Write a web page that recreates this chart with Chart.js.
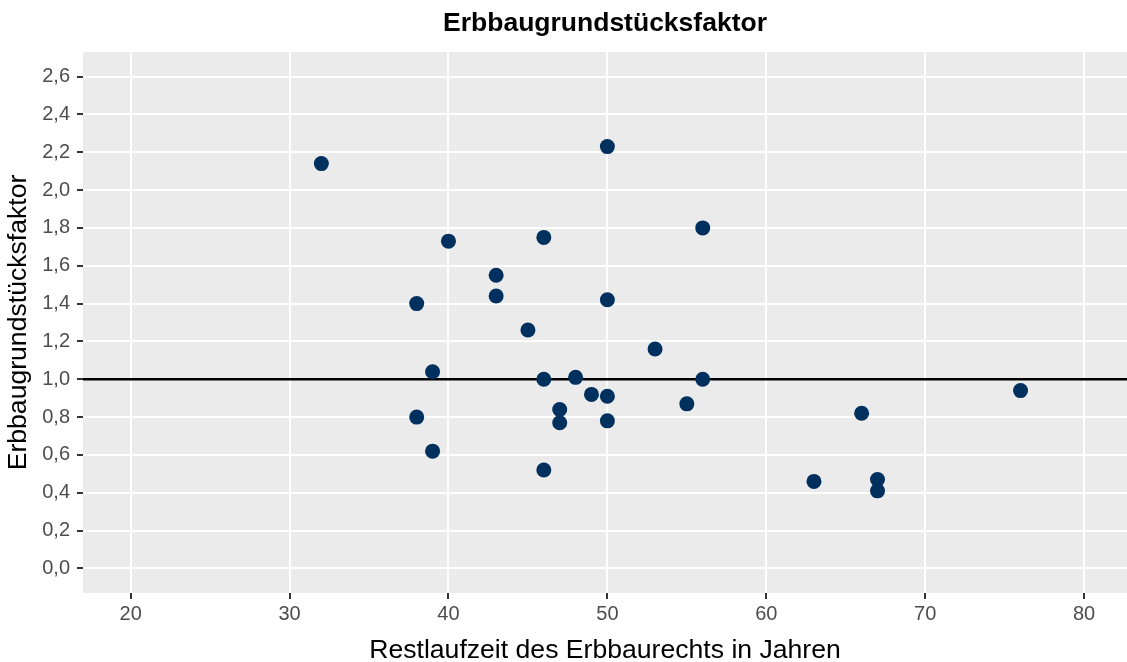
<!DOCTYPE html>
<html lang="de">
<head>
<meta charset="utf-8">
<title>Erbbaugrundstücksfaktor</title>
<script src="https://cdn.jsdelivr.net/npm/chart.js@4.4.1/dist/chart.umd.min.js"></script>
<style>
  html, body { margin: 0; padding: 0; background: #ffffff; }
  #wrap { width: 1127px; height: 662px; position: relative; }
</style>
</head>
<body>
<div id="wrap"><canvas id="chart"></canvas></div>
<script>
// Restlaufzeit (Jahre) und zugehöriger Erbbaugrundstücksfaktor je Kauffall
const restlaufzeit = [32, 38, 38, 39, 39, 40, 43, 43, 45, 46, 46, 46, 47, 47, 48, 49, 50, 50, 50, 50, 53, 55, 56, 56, 63, 66, 67, 67, 76];
const faktor       = [2.14, 1.40, 0.80, 1.04, 0.62, 1.73, 1.55, 1.44, 1.26, 1.75, 1.00, 0.52, 0.84, 0.77, 1.01, 0.92, 2.23, 1.42, 0.91, 0.78, 1.16, 0.87, 1.80, 1.00, 0.46, 0.82, 0.47, 0.41, 0.94];

// Achsenbeschriftungen
const xTicks = [20, 30, 40, 50, 60, 70, 80];
const yTicks = [0, 0.2, 0.4, 0.6, 0.8, 1.0, 1.2, 1.4, 1.6, 1.8, 2.0, 2.2, 2.4, 2.6];

// Referenzlinie bei Faktor 1
const referenz = 1.0;

const X_MIN = 17, X_MAX = 82.7;
const Y_MIN = -0.13, Y_MAX = 2.73;

const FONT = '"Liberation Sans", Arial, Helvetica, sans-serif';

const punkte = restlaufzeit.map((x, i) => ({ x: x, y: faktor[i] }));

// grauer Hintergrund der Zeichenfläche
const panelBackground = {
  id: 'panelBackground',
  beforeDraw(chart) {
    const { ctx, chartArea: a } = chart;
    ctx.save();
    ctx.fillStyle = '#EBEBEB';
    ctx.fillRect(a.left, a.top, a.right - a.left, a.bottom - a.top);
    ctx.restore();
  }
};

const fixedTicks = (values) => (scale) => {
  scale.ticks = values.map(v => ({ value: v }));
};

new Chart(document.getElementById('chart'), {
  type: 'scatter',
  data: {
    datasets: [
      {
        label: 'Kauffälle',
        data: punkte,
        backgroundColor: '#00305E',
        borderWidth: 0,
        pointRadius: 7.5,
        pointHoverRadius: 7.5,
        order: 1
      },
      {
        type: 'line',
        label: 'Faktor 1,0',
        data: [{ x: X_MIN, y: referenz }, { x: X_MAX, y: referenz }],
        borderColor: '#000000',
        borderWidth: 2.5,
        pointRadius: 0,
        fill: false,
        order: 2
      }
    ]
  },
  options: {
    responsive: true,
    maintainAspectRatio: false,
    animation: false,
    events: [],
    layout: { padding: 0, autoPadding: false },
    plugins: {
      legend: { display: false },
      tooltip: { enabled: false },
      title: {
        display: true,
        fullSize: false,
        text: 'Erbbaugrundstücksfaktor',
        color: '#000000',
        font: { family: FONT, size: 26.5, weight: 'bold', lineHeight: 1.2 },
        padding: { top: 8, bottom: 12.2 }
      }
    },
    scales: {
      x: {
        type: 'linear',
        min: X_MIN,
        max: X_MAX,
        afterBuildTicks: fixedTicks(xTicks),
        afterFit(scale) {
          scale.height = 69;
          scale.paddingLeft = 0;
          scale.paddingRight = 0;
        },
        border: { display: false },
        grid: {
          color: '#FFFFFF',
          lineWidth: 2,
          drawTicks: true,
          tickLength: 6,
          tickWidth: 2,
          tickColor: '#333333'
        },
        ticks: {
          color: '#4D4D4D',
          font: { family: FONT, size: 20 },
          padding: 3,
          maxRotation: 0,
          callback: (v) => String(v)
        },
        title: {
          display: true,
          text: 'Restlaufzeit des Erbbaurechts in Jahren',
          color: '#000000',
          font: { family: FONT, size: 26.6, lineHeight: 1.2 },
          padding: { top: 0, bottom: -4.6 }
        }
      },
      y: {
        type: 'linear',
        min: Y_MIN,
        max: Y_MAX,
        afterBuildTicks: fixedTicks(yTicks),
        afterFit(scale) {
          scale.width = 83;
          scale.paddingTop = 0;
          scale.paddingBottom = 0;
        },
        border: { display: false },
        grid: {
          color: '#FFFFFF',
          lineWidth: 2,
          drawTicks: true,
          tickLength: 6,
          tickWidth: 2,
          tickColor: '#333333'
        },
        ticks: {
          color: '#4D4D4D',
          font: { family: FONT, size: 20 },
          padding: 7,
          callback: (v) => Number(v).toFixed(1).replace('.', ',')
        },
        title: {
          display: true,
          text: 'Erbbaugrundstücksfaktor',
          color: '#000000',
          font: { family: FONT, size: 26.6, lineHeight: 1.2 },
          padding: { top: 2.4, bottom: 0 }
        }
      }
    }
  },
  plugins: [panelBackground]
});
</script>
</body>
</html>
